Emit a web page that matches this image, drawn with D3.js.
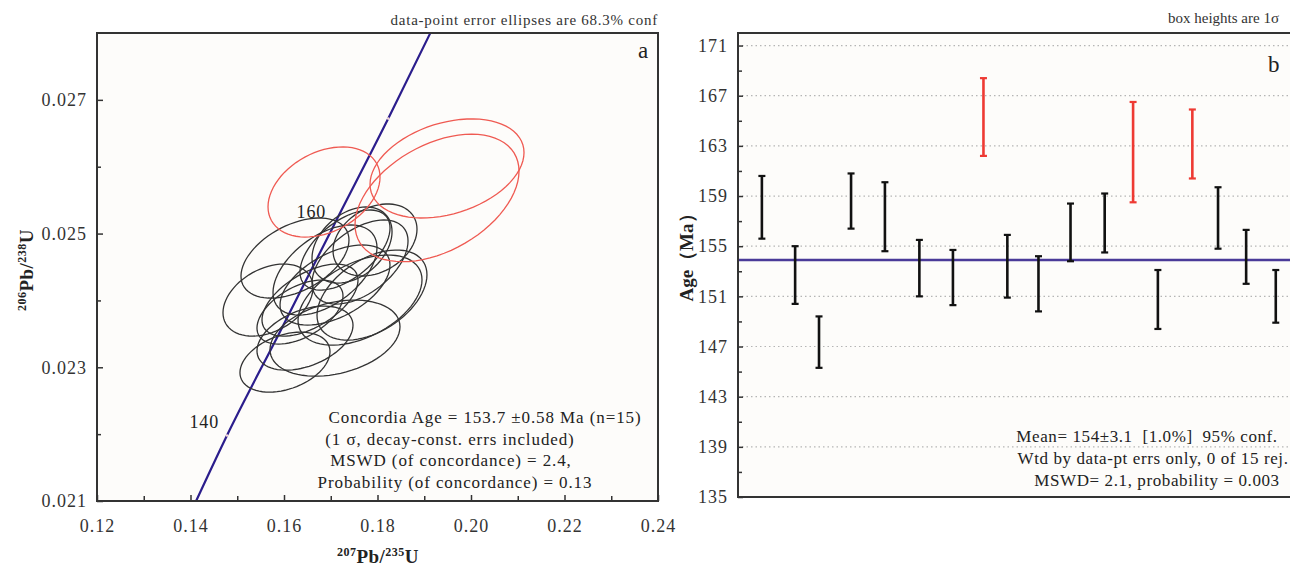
<!DOCTYPE html>
<html>
<head>
<meta charset="utf-8">
<script src="https://cdn.jsdelivr.net/npm/d3@7"></script>
<style>
body{margin:0;background:#fff;}
svg{display:block;font-family:"Liberation Serif","Times New Roman",serif;}
.axis text{font-size:18px;fill:#333;letter-spacing:1px;font-family:"Liberation Serif","Times New Roman",serif;}
.axis line{stroke:#333;stroke-width:1.5;}
</style>
</head>
<body>
<div id="chart"></div>
<script>
// ---- panel a : concordia
var xMajor = [0.12, 0.14, 0.16, 0.18, 0.20, 0.22, 0.24];
var xMinor = [0.13, 0.15, 0.17, 0.19, 0.21, 0.23];
var yMajor = [0.021, 0.023, 0.025, 0.027];
var yMinor = [0.022, 0.024, 0.026];

// concordia curve (207/235, 206/238)
var concX = [0.1412, 0.1478, 0.1592, 0.1707, 0.1823, 0.1913];
var concY = [0.0210, 0.02198, 0.02354, 0.02513, 0.02672, 0.0280];
var markIdx = [1, 4];            // visible age marks (140, 170 Ma)
var labelIdx = [1, 3];           // labelled ages
var labelText = ["140", "160"];

// error ellipses: centre, half extents, correlation; last three rejected (red)
var ellX  = [0.15658,0.16235,0.16021,0.16449,0.16342,0.16556,0.17091,0.17305,0.17947,0.17455,0.17626,0.17882,0.17091,0.16877,0.17626,0.16856,0.19487,0.19273];
var ellY  = [0.024005,0.024634,0.023077,0.023436,0.023826,0.024005,0.024230,0.024754,0.024904,0.024829,0.024005,0.024080,0.023436,0.024454,0.024574,0.025622,0.025974,0.025533];
var ellSx = [0.00963,0.01155,0.00963,0.01027,0.00920,0.01027,0.01176,0.00963,0.00898,0.00856,0.01326,0.01176,0.01390,0.01112,0.01027,0.01198,0.01647,0.01754];
var ellSy = [0.000539,0.000599,0.000449,0.000479,0.000479,0.000539,0.000599,0.000599,0.000539,0.000569,0.000674,0.000674,0.000569,0.000674,0.000629,0.000674,0.000741,0.000954];
var ellRho = [0.35,0.45,0.35,0.4,0.5,0.55,0.5,0.55,0.3,0.35,0.45,0.45,0.3,0.5,0.5,0.33,0.32,0.42];
var ellRej = [0,0,0,0,0,0,0,0,0,0,0,0,0,0,0,1,1,1];

// ---- panel b : weighted mean
var ageTicks = [135, 139, 143, 147, 151, 155, 159, 163, 167, 171];
var ageMinor = [137, 141, 145, 149, 153, 157, 161, 165, 169];
var spotPos = [1.00, 2.10, 2.89, 3.95, 5.07, 6.21, 7.32, 8.33, 9.12, 10.15, 11.21, 12.34, 13.28, 14.10, 15.24, 16.09, 17.02, 18.00];
var ageHi = [160.6, 155.0, 149.4, 160.8, 160.1, 155.5, 154.7, 168.4, 155.9, 154.2, 158.4, 159.2, 166.5, 153.1, 165.9, 159.7, 156.3, 153.1];
var ageLo = [155.6, 150.4, 145.3, 156.4, 154.6, 151.0, 150.3, 162.2, 150.9, 149.8, 153.8, 154.5, 158.5, 148.4, 160.4, 154.8, 152.0, 148.9];
var spotRej = [0,0,0,0,0,0,0,1,0,0,0,0,1,0,1,0,0,0];
var meanAge = 153.9;

var svg = d3.select("#chart").append("svg").attr("width",1290).attr("height",567);

// ================= panel a
var ma = {top:33, left:97}, wa = 561, ha = 468;
var ga = svg.append("g").attr("transform","translate("+ma.left+","+ma.top+")");
ga.append("rect").attr("width",wa).attr("height",ha).attr("fill","#fdfcfa");

var xa = d3.scaleLinear().domain([0.12,0.24]).range([0,wa]);
var ya = d3.scaleLinear().domain([0.021,0.028]).range([ha,0]);

function noDomain(g){ g.attr("font-family",null).attr("font-size",null); g.select(".domain").remove(); }

ga.append("g").attr("class","axis").attr("transform","translate(0,"+ha+")")
  .call(d3.axisBottom(xa).tickValues(xMajor).tickSize(-6).tickSizeOuter(0).tickPadding(18).tickFormat(d3.format(".2f")))
  .call(noDomain);
ga.append("g").attr("class","axis").attr("transform","translate(0,"+ha+")")
  .call(d3.axisBottom(xa).tickValues(xMinor).tickSize(-5).tickSizeOuter(0).tickFormat(""))
  .call(noDomain);
ga.append("g").attr("class","axis")
  .call(d3.axisLeft(ya).tickValues(yMajor).tickSize(-6).tickSizeOuter(0).tickPadding(10).tickFormat(d3.format(".3f")))
  .call(noDomain);
ga.append("g").attr("class","axis")
  .call(d3.axisLeft(ya).tickValues(yMinor).tickSize(-4).tickSizeOuter(0).tickFormat(""))
  .call(noDomain);

// concordia
var conc = d3.range(concX.length).map(function(i){ return [concX[i], concY[i]]; });
ga.append("path").datum(conc)
  .attr("d", d3.line().x(function(d){ return xa(d[0]); }).y(function(d){ return ya(d[1]); }).curve(d3.curveMonotoneX))
  .attr("fill","none").attr("stroke","#2b1d8c").attr("stroke-width",2.2);
ga.selectAll(".mark").data(markIdx).enter().append("circle")
  .attr("cx", function(i){ return xa(concX[i]); })
  .attr("cy", function(i){ return ya(concY[i]); })
  .attr("r",1.3).attr("fill","#f6d8d8");
ga.selectAll(".agelab").data(labelIdx).enter().append("text")
  .attr("x", function(i){ return xa(concX[i]) - 8; })
  .attr("y", function(i){ return ya(concY[i]) - 7; })
  .attr("text-anchor","end").attr("font-size","18px").attr("fill","#222").attr("letter-spacing","0.8px")
  .text(function(i, k){ return labelText[k]; });

// ellipses
var ellLine = d3.line().x(function(d){ return xa(d[0]); }).y(function(d){ return ya(d[1]); }).curve(d3.curveLinearClosed);
var steps = d3.range(0, 72);
ga.selectAll(".ell").data(d3.range(ellX.length)).enter().append("path")
  .attr("d", function(i){
    var r = ellRho[i], q = Math.sqrt(1 - r*r);
    var pts = steps.map(function(s){
      var t = s / 72 * 2 * Math.PI;
      return [ellX[i] + ellSx[i]*Math.cos(t), ellY[i] + ellSy[i]*(r*Math.cos(t) + q*Math.sin(t))];
    });
    return ellLine(pts);
  })
  .attr("fill","none")
  .attr("stroke", function(i){ return ellRej[i] ? "#ef5a52" : "#333"; })
  .attr("stroke-width",1.3);

ga.append("rect").attr("width",wa).attr("height",ha).attr("fill","none").attr("stroke","#333").attr("stroke-width",2);

ga.append("text").attr("x",wa).attr("y",-8).attr("text-anchor","end").attr("font-size","15px").attr("fill","#333")
  .attr("letter-spacing","0.75px")
  .text("data-point error ellipses are 68.3% conf");
ga.append("text").attr("x",wa-20).attr("y",25).attr("font-size","23px").attr("fill","#222").text("a");

var stats = [["Concordia Age = 153.7 \u00b10.58 Ma (n=15)", 388], ["(1 \u03c3, decay-const. errs included)", 353],
             ["MSWD (of concordance) = 2.4,", 354], ["Probability (of concordance) = 0.13", 358]];
ga.selectAll(".stat").data(stats).enter().append("text")
  .attr("x", function(d){ return d[1]; })
  .attr("y", function(d, i){ return 390 + i*21.5; })
  .attr("text-anchor","middle").attr("font-size","17px").attr("fill","#222").attr("letter-spacing","0.9px")
  .text(function(d){ return d[0]; });

// axis titles
var yt = svg.append("text").attr("transform","translate(33,270) rotate(-90)").attr("text-anchor","middle")
  .attr("font-weight","bold").attr("font-size","19px").attr("fill","#222").attr("letter-spacing","0.5px");
yt.append("tspan").attr("font-size","12px").attr("dy",-7).text("206");
yt.append("tspan").attr("dy",7).text("Pb/");
yt.append("tspan").attr("font-size","12px").attr("dy",-7).text("238");
yt.append("tspan").attr("dy",7).text("U");
var xt = svg.append("text").attr("x",378).attr("y",563).attr("text-anchor","middle")
  .attr("font-weight","bold").attr("font-size","19px").attr("fill","#222").attr("letter-spacing","0.5px");
xt.append("tspan").attr("font-size","12px").attr("dy",-7).text("207");
xt.append("tspan").attr("dy",7).text("Pb/");
xt.append("tspan").attr("font-size","12px").attr("dy",-7).text("235");
xt.append("tspan").attr("dy",7).text("U");

// ================= panel b
var mb = {top:33, left:738}, wb = 568, hb = 464;
var gb = svg.append("g").attr("transform","translate("+mb.left+","+mb.top+")");
gb.append("rect").attr("width",wb).attr("height",hb).attr("fill","#fdfcfa");

var xb = d3.scaleLinear().domain([0.21, 19.0]).range([0,wb]);
var yb = d3.scaleLinear().domain([135,172]).range([hb,0]);

// dotted grid
gb.selectAll(".grid").data(ageTicks.slice(1)).enter().append("line")
  .attr("x1",4).attr("x2",wb).attr("y1",function(d){ return yb(d); }).attr("y2",function(d){ return yb(d); })
  .attr("stroke","#b5b5b5").attr("stroke-width",1.2).attr("stroke-dasharray","1.5,3");

gb.append("g").attr("class","axis")
  .call(d3.axisLeft(yb).tickValues(ageTicks).tickSize(-5).tickSizeOuter(0).tickPadding(10))
  .call(noDomain);
gb.append("g").attr("class","axis")
  .call(d3.axisLeft(yb).tickValues(ageMinor).tickSize(-4).tickSizeOuter(0).tickFormat(""))
  .call(noDomain);

// mean line
gb.append("line").attr("x1",0).attr("x2",wb).attr("y1",yb(meanAge)).attr("y2",yb(meanAge))
  .attr("stroke","#4a3a98").attr("stroke-width",2.6);

// error bars
var bars = gb.selectAll(".bar").data(d3.range(spotPos.length)).enter().append("g")
  .attr("stroke", function(i){ return spotRej[i] ? "#ee3a33" : "#111"; });
bars.append("line")
  .attr("x1", function(i){ return xb(spotPos[i]); }).attr("x2", function(i){ return xb(spotPos[i]); })
  .attr("y1", function(i){ return yb(ageHi[i]); }).attr("y2", function(i){ return yb(ageLo[i]); })
  .attr("stroke-width",2.6);
bars.append("line")
  .attr("x1", function(i){ return xb(spotPos[i]) - 3.5; }).attr("x2", function(i){ return xb(spotPos[i]) + 3.5; })
  .attr("y1", function(i){ return yb(ageHi[i]); }).attr("y2", function(i){ return yb(ageHi[i]); })
  .attr("stroke-width",2.2);
bars.append("line")
  .attr("x1", function(i){ return xb(spotPos[i]) - 3.5; }).attr("x2", function(i){ return xb(spotPos[i]) + 3.5; })
  .attr("y1", function(i){ return yb(ageLo[i]); }).attr("y2", function(i){ return yb(ageLo[i]); })
  .attr("stroke-width",2.2);

gb.append("rect").attr("width",wb).attr("height",hb).attr("fill","none").attr("stroke","#333").attr("stroke-width",2);

gb.append("text").attr("x",430).attr("y",-10).attr("font-size","15px").attr("fill","#333")
  .text("box heights are 1\u03c3");
gb.append("text").attr("x",530).attr("y",39).attr("font-size","23px").attr("fill","#222").text("b");

var meanTxt = [["Mean= 154\u00b13.1  [1.0%]  95% conf.", 409], ["Wtd by data-pt errs only, 0 of 15 rej.", 415], ["MSWD= 2.1, probability = 0.003", 419]];
gb.selectAll(".mt").data(meanTxt).enter().append("text")
  .attr("x", function(d){ return d[1]; })
  .attr("y", function(d, i){ return 409 + i*22; })
  .attr("text-anchor","middle").attr("font-size","17px").attr("fill","#222").attr("letter-spacing","0.6px")
  .style("white-space","pre")
  .text(function(d){ return d[0]; });

svg.append("text").attr("transform","translate(693,253) rotate(-90)").attr("text-anchor","middle")
  .attr("font-weight","bold").attr("font-size","19px").attr("fill","#222")
  .text("Age\uff08Ma\uff09");
</script>
</body>
</html>
